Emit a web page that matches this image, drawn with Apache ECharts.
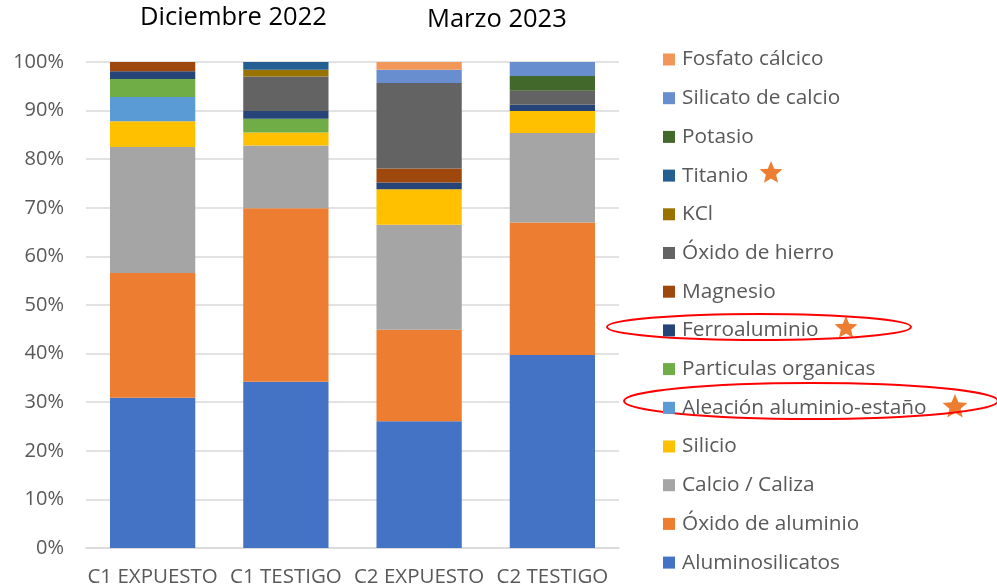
<!DOCTYPE html>
<html>
<head>
<meta charset="utf-8">
<script src="https://cdn.jsdelivr.net/npm/echarts@6/dist/echarts.min.js"></script>
<style>
  html, body { margin: 0; padding: 0; background: #fff; }
  #chart { width: 997px; height: 588px; }
</style>
</head>
<body>
<div id="chart"></div>
<script>
// Muestras analizadas
const categories = ['C1 EXPUESTO', 'C1 TESTIGO', 'C2 EXPUESTO', 'C2 TESTIGO'];

// Composición (%) por componente, de abajo hacia arriba en cada columna
const aluminosilicatos   = [30.9, 34.2, 26.1, 39.7];
const oxidoAluminio      = [25.7, 35.7, 18.8, 27.3];
const calcioCaliza       = [25.9, 12.9, 21.6, 18.4];
const silicio            = [5.3, 2.7, 7.3, 4.5];
const aleacionAlSn       = [5.0, 0, 0, 0];
const particulasOrg      = [3.7, 2.8, 0, 0];
const ferroaluminio      = [1.6, 1.6, 1.4, 1.3];
const magnesio           = [1.9, 0, 2.9, 0];
const oxidoHierro        = [0, 7.1, 17.6, 2.9];
const kcl                = [0, 1.4, 0, 0];
const titanio            = [0, 1.6, 0, 0];
const potasio            = [0, 0, 0, 3.0];
const silicatoCalcio     = [0, 0, 2.7, 2.9];
const fosfatoCalcico     = [0, 0, 1.6, 0];

const yTicks = [0, 10, 20, 30, 40, 50, 60, 70, 80, 90, 100];
const periodTitles = ['Diciembre 2022', 'Marzo 2023'];

const seriesDefs = [
  ['Aluminosilicatos', aluminosilicatos, '#4472C4'],
  ['Óxido de aluminio', oxidoAluminio, '#ED7D31'],
  ['Calcio / Caliza', calcioCaliza, '#A5A5A5'],
  ['Silicio', silicio, '#FFC000'],
  ['Aleación aluminio-estaño', aleacionAlSn, '#5B9BD5'],
  ['Particulas organicas', particulasOrg, '#70AD47'],
  ['Ferroaluminio', ferroaluminio, '#264478'],
  ['Magnesio', magnesio, '#9E480E'],
  ['Óxido de hierro', oxidoHierro, '#636363'],
  ['KCl', kcl, '#997300'],
  ['Titanio', titanio, '#255E91'],
  ['Potasio', potasio, '#43682B'],
  ['Silicato de calcio', silicatoCalcio, '#698ED0'],
  ['Fosfato cálcico', fosfatoCalcico, '#F1975A']
];

const FONT = '"Open Sans", Lato, sans-serif';
const TEXT_GREY = '#595959';

// Five-pointed star outline centred on (cx, cy)
function starPoints(cx, cy, r) {
  const pts = [];
  for (let i = 0; i < 10; i++) {
    const rad = i % 2 === 0 ? r : r * 0.45;
    const a = -Math.PI / 2 + i * Math.PI / 5;
    pts.push([cx + rad * Math.cos(a), cy + rad * Math.sin(a)]);
  }
  return pts;
}

const chart = echarts.init(document.getElementById('chart'), null, { renderer: 'canvas' });

const option = {
  animation: false,
  backgroundColor: '#fff',
  textStyle: { fontFamily: FONT },
  grid: { left: 86, right: 378, top: 62, bottom: 40, containLabel: false },
  xAxis: {
    type: 'category',
    data: categories,
    axisTick: { show: false },
    axisLine: { lineStyle: { color: '#D9D9D9', width: 1.5 } },
    axisLabel: { color: TEXT_GREY, fontSize: 20.5, fontFamily: FONT, margin: 19, interval: 0 }
  },
  yAxis: {
    type: 'value',
    min: yTicks[0],
    max: yTicks[yTicks.length - 1],
    interval: 10,
    axisLine: { show: false },
    axisTick: { show: false },
    splitLine: { lineStyle: { color: '#D9D9D9', width: 1.5 } },
    axisLabel: { color: TEXT_GREY, fontSize: 20, fontFamily: FONT, margin: 22, formatter: '{value}%' }
  },
  legend: {
    orient: 'vertical',
    left: 663,
    top: 49,
    padding: 0,
    icon: 'rect',
    itemWidth: 12,
    itemHeight: 12,
    itemGap: 17.7,
    data: seriesDefs.map(d => d[0]).reverse(),
    textStyle: { color: TEXT_GREY, fontSize: 20.8, fontFamily: FONT, lineHeight: 20, padding: [0, 0, 0, 2] }
  },
  series: seriesDefs.map(([name, values, color]) => ({
    name,
    type: 'bar',
    stack: 'total',
    barCategoryGap: '36%',
    data: values,
    itemStyle: { color }
  })),
  graphic: [
    { type: 'text', left: 140, top: 5, style: { text: periodTitles[0], fill: '#000', fontSize: 25.5, fontFamily: FONT } },
    { type: 'text', left: 427, top: 7, style: { text: periodTitles[1], fill: '#000', fontSize: 25.5, fontFamily: FONT } },
    { type: 'polygon', shape: { points: starPoints(771, 173, 12) }, style: { fill: '#ED7D31' } },
    { type: 'polygon', shape: { points: starPoints(846, 328, 12) }, style: { fill: '#ED7D31' } },
    { type: 'polygon', shape: { points: starPoints(955, 407, 13) }, style: { fill: '#ED7D31' } },
    { type: 'ellipse', shape: { cx: 759, cy: 327, rx: 152, ry: 13 }, style: { fill: 'none', stroke: '#FF0000', lineWidth: 2 } },
    { type: 'ellipse', shape: { cx: 811, cy: 401, rx: 187, ry: 18 }, style: { fill: 'none', stroke: '#FF0000', lineWidth: 2 } }
  ]
};

chart.setOption(option);
</script>
</body>
</html>
